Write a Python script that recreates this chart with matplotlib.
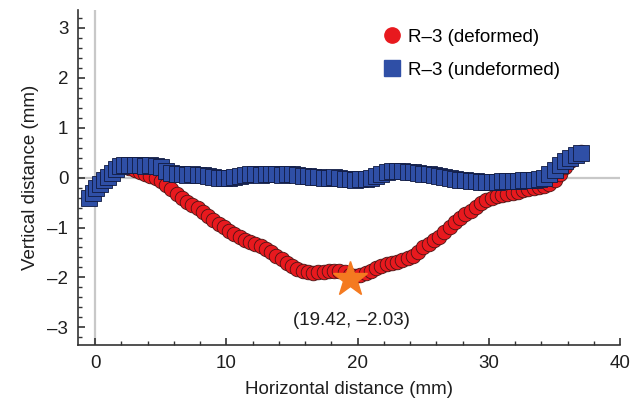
import numpy as np
import matplotlib
matplotlib.use("Agg")
import matplotlib.pyplot as plt
from matplotlib.lines import Line2D
from matplotlib.ticker import MultipleLocator

plt.rcParams['font.family'] = ['Liberation Sans', 'DejaVu Sans']

# R-3 deformed profile (mm)
x_def = [1.8, 2.2, 2.6, 3.0, 3.4, 3.8, 4.2, 4.6, 5.0, 5.4, 5.8, 6.2, 6.6, 7.0, 7.4,
         7.8, 8.2, 8.6, 9.0, 9.4, 9.8, 10.2, 10.6, 11.0, 11.4, 11.8, 12.2, 12.6, 13.0,
         13.4, 13.8, 14.2, 14.6, 15.0, 15.4, 15.8, 16.2, 16.6, 17.0, 17.4, 17.8, 18.2,
         18.6, 19.0, 19.4, 19.8, 20.2, 20.6, 21.0, 21.4, 21.8, 22.2, 22.6, 23.0, 23.4,
         23.8, 24.2, 24.6, 25.0, 25.4, 25.8, 26.2, 26.6, 27.0, 27.4, 27.8, 28.2, 28.6,
         29.0, 29.4, 29.8, 30.2, 30.6, 31.0, 31.4, 31.8, 32.2, 32.6, 33.0, 33.4, 33.8,
         34.2, 34.6, 35.0, 35.4, 35.8, 36.2, 36.6, 37.0]
y_def = [0.26, 0.24, 0.20, 0.16, 0.12, 0.08, 0.04, 0.00, -0.06, -0.14, -0.22, -0.32,
         -0.40, -0.48, -0.54, -0.60, -0.68, -0.76, -0.84, -0.92, -0.99, -1.06, -1.13,
         -1.18, -1.24, -1.29, -1.33, -1.38, -1.43, -1.50, -1.58, -1.64, -1.71, -1.78,
         -1.83, -1.88, -1.90, -1.91, -1.90, -1.89, -1.88, -1.87, -1.87, -1.90, -1.95,
         -1.97, -1.95, -1.92, -1.87, -1.82, -1.77, -1.74, -1.72, -1.70, -1.66, -1.62,
         -1.57, -1.50, -1.40, -1.32, -1.25, -1.18, -1.08, -0.98, -0.88, -0.80, -0.73,
         -0.66, -0.58, -0.50, -0.44, -0.40, -0.37, -0.34, -0.32, -0.30, -0.28, -0.25,
         -0.23, -0.21, -0.19, -0.16, -0.12, -0.05, 0.08, 0.22, 0.34, 0.44, 0.52]

# R-3 undeformed profile (mm)
x_und = [-0.5, -0.2, 0.1, 0.4, 0.7, 1.0, 1.3, 1.6, 1.9, 2.2, 2.6, 3.0, 3.4, 3.8, 4.2,
         4.6, 5.0, 5.4, 5.8, 6.2, 6.6, 7.0, 7.4, 7.8, 8.2, 8.6, 9.0, 9.4, 9.8, 10.2,
         10.6, 11.0, 11.4, 11.8, 12.2, 12.6, 13.0, 13.4, 13.8, 14.2, 14.6, 15.0, 15.4,
         15.8, 16.2, 16.6, 17.0, 17.4, 17.8, 18.2, 18.6, 19.0, 19.4, 19.8, 20.2, 20.6,
         21.0, 21.4, 21.8, 22.2, 22.6, 23.0, 23.4, 23.8, 24.2, 24.6, 25.0, 25.4, 25.8,
         26.2, 26.6, 27.0, 27.4, 27.8, 28.2, 28.6, 29.0, 29.4, 29.8, 30.2, 30.6, 31.0,
         31.4, 31.8, 32.2, 32.6, 33.0, 33.4, 33.8, 34.2, 34.6, 35.0, 35.4, 35.8, 36.2,
         36.6, 37.0]
y_und = [-0.40, -0.30, -0.20, -0.12, -0.05, 0.02, 0.10, 0.18, 0.24, 0.26, 0.26, 0.25,
         0.25, 0.24, 0.25, 0.24, 0.22, 0.14, 0.10, 0.08, 0.08, 0.06, 0.08, 0.06, 0.05,
         0.04, 0.02, 0.00, 0.00, 0.00, 0.02, 0.03, 0.06, 0.07, 0.07, 0.06, 0.07, 0.08,
         0.07, 0.06, 0.07, 0.08, 0.06, 0.04, 0.03, 0.02, 0.02, 0.00, 0.00, 0.02, 0.00,
         -0.02, -0.03, -0.04, -0.03, -0.02, 0.00, 0.04, 0.08, 0.12, 0.14, 0.14, 0.13,
         0.12, 0.11, 0.10, 0.08, 0.07, 0.06, 0.04, 0.02, 0.00, -0.02, -0.04, -0.05,
         -0.06, -0.07, -0.08, -0.08, -0.08, -0.08, -0.07, -0.07, -0.06, -0.06, -0.05,
         -0.04, -0.04, -0.03, 0.00, 0.08, 0.16, 0.26, 0.34, 0.40, 0.45, 0.50]

max_pt = (19.42, -2.03)

red = '#E8191E'
blue = '#2F4FA6'
orange = '#F47A20'
txt = '#1E1E1E'

fig = plt.figure(figsize=(6.4, 4.03), dpi=100)
ax = fig.add_axes([0.122, 0.144, 0.847, 0.831])

ax.axhline(0, color='#C8C8C8', lw=1.6, zorder=0)
ax.axvline(0, color='#C8C8C8', lw=1.6, zorder=0)

ax.plot(x_def, y_def, 'o', ms=10.5, mfc=red, mec='#4A1515', mew=0.6, zorder=2)
ax.plot(x_und, y_und, 's', ms=11, mfc=blue, mec='#101a40', mew=0.6, zorder=3)
ax.plot(max_pt[0], max_pt[1], '*', ms=26, color=orange, mec=orange, zorder=4)
ax.text(max_pt[0] + 0.1, -2.86, '(19.42, –2.03)', ha='center', va='center', fontsize=13.5, color=txt)

ax.set_xlim(-1.3, 40)
ax.set_ylim(-3.35, 3.35)
ax.xaxis.set_major_locator(MultipleLocator(10))
ax.xaxis.set_minor_locator(MultipleLocator(2))
ax.yaxis.set_major_locator(MultipleLocator(1))
ax.yaxis.set_minor_locator(MultipleLocator(0.2))
ax.yaxis.set_major_formatter(plt.FuncFormatter(lambda v, p: f'{v:.0f}'.replace('-', '–')))

for s in ['top', 'right']:
    ax.spines[s].set_visible(False)
for s in ['left', 'bottom']:
    ax.spines[s].set_color('#333333')
    ax.spines[s].set_linewidth(1.2)
ax.tick_params(which='both', direction='in', color='#333333', labelsize=13.5, labelcolor=txt)
ax.tick_params(which='major', length=5, width=1.2, pad=7)
ax.tick_params(which='minor', length=3, width=1.0)

ax.set_xlabel('Horizontal distance (mm)', fontsize=13.5, color=txt, labelpad=7)
ax.set_ylabel('Vertical distance (mm)', fontsize=13.5, color=txt, labelpad=6)

handles = [Line2D([], [], marker='o', ls='none', ms=11, mfc=red, mec=red),
           Line2D([], [], marker='s', ls='none', ms=11, mfc=blue, mec=blue)]
ax.legend(handles, ['R–3 (deformed)', 'R–3 (undeformed)'], loc='upper left',
          bbox_to_anchor=(0.522, 0.995), frameon=False, fontsize=13.5,
          handletextpad=0.1, labelspacing=0.85, handlelength=1.5)

fig.savefig('out.png', dpi=100)
